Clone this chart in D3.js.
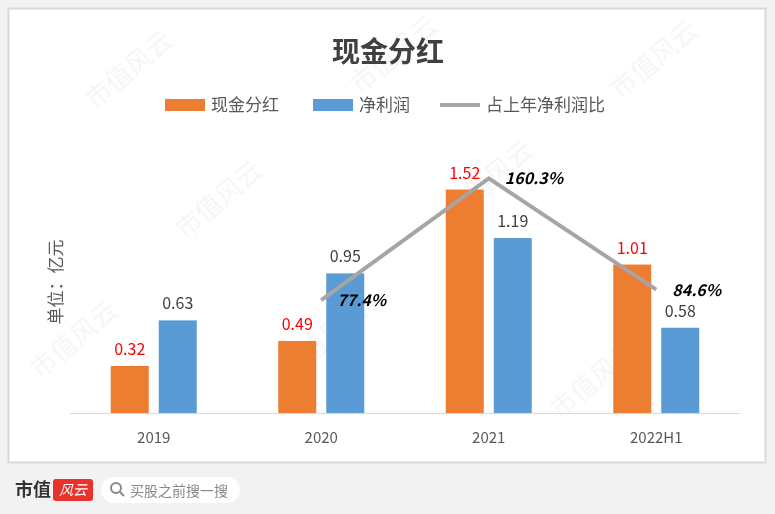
<!DOCTYPE html>
<html><head><meta charset="utf-8">
<script src="https://cdn.jsdelivr.net/npm/d3@7"></script>
<style>body{margin:0;background:#f2f2f2;font-family:"Noto Sans CJK SC","Noto Sans",sans-serif}</style>
</head><body><svg id="c" width="775" height="514"></svg>
<script>
const categories = ["2019","2020","2021","2022H1"];
const dividend = [0.32,0.49,1.52,1.01];
const netProfit = [0.63,0.95,1.19,0.58];
const ratio = [null,77.4,160.3,84.6];
const ratioLabels = ["","77.4%","160.3%","84.6%"];

const svg = d3.select("#c");
const F = '"Noto Sans CJK SC","Noto Sans",sans-serif';
svg.append("rect").attr("x",0).attr("y",0).attr("width",775).attr("height",514).attr("fill","#f2f2f2");
svg.append("rect").attr("x",8.5).attr("y",8.5).attr("width",757).attr("height",454).attr("fill","#fff").attr("stroke","#d9d9d9").attr("stroke-width",2);

// watermarks
const wm = svg.append("g").attr("fill","#000").attr("opacity",0.04).attr("font-size",26).attr("font-family",F);
[[95,110],[360,95],[620,100],[185,240],[455,220],[40,380],[290,380],[560,420]].forEach(([x,y])=>{
  wm.append("text").attr("transform",`translate(${x},${y}) rotate(-40)`).text("市值风云");
});

svg.append("text").attr("x",388).attr("y",62).attr("text-anchor","middle").attr("font-size",28).attr("font-weight","bold").attr("fill","#404040").attr("font-family",F).text("现金分红");

// legend
const lg = svg.append("g").attr("font-size",17).attr("fill","#595959").attr("font-family",F);
lg.append("rect").attr("x",165).attr("y",99).attr("width",40).attr("height",12).attr("fill","#ed7d31");
lg.append("text").attr("x",211).attr("y",111).attr("fill","#595959").text("现金分红");
lg.append("rect").attr("x",313).attr("y",99).attr("width",40).attr("height",12).attr("fill","#5b9bd5");
lg.append("text").attr("x",359).attr("y",111).attr("fill","#595959").text("净利润");
lg.append("line").attr("x1",440).attr("x2",480).attr("y1",105).attr("y2",105).attr("stroke","#a5a5a5").attr("stroke-width",4);
lg.append("text").attr("x",486).attr("y",111).attr("fill","#595959").text("占上年净利润比");

const x = d3.scaleBand().domain(categories).range([70,740]);
const y = d3.scaleLinear().domain([0,1]).range([413,266]);
const y2 = d3.scaleLinear().domain([0,100]).range([414,267]);
const bw = 38, gap = 10;

svg.append("line").attr("x1",70).attr("x2",740).attr("y1",413.5).attr("y2",413.5).attr("stroke","#d9d9d9");
const xa = svg.append("g").attr("transform","translate(0,414)").call(d3.axisBottom(x).tickSize(0).tickPadding(18));
xa.select(".domain").remove();
xa.selectAll("text").attr("font-size",15).attr("fill","#595959").attr("font-family",F);

svg.append("text").attr("transform","translate(62,282) rotate(-90)").attr("text-anchor","middle").attr("font-size",17).attr("fill","#595959").attr("font-family",F).text("单位：亿元");

const cx = d => x(d)+x.bandwidth()/2;
svg.selectAll(".o").data(categories).join("rect").attr("x",d=>cx(d)-gap/2-bw).attr("width",bw)
 .attr("y",(d,i)=>y(dividend[i])).attr("height",(d,i)=>y(0)-y(dividend[i])).attr("fill","#ed7d31");
svg.selectAll(".b").data(categories).join("rect").attr("x",d=>cx(d)+gap/2).attr("width",bw)
 .attr("y",(d,i)=>y(netProfit[i])).attr("height",(d,i)=>y(0)-y(netProfit[i])).attr("fill","#5b9bd5");
svg.selectAll(".ol").data(categories).join("text").attr("x",d=>cx(d)-gap/2-bw/2).attr("y",(d,i)=>y(dividend[i])-11)
 .attr("text-anchor","middle").attr("font-size",16).attr("fill","#ff0000").attr("font-family",F).text((d,i)=>dividend[i].toFixed(2));
svg.selectAll(".bl").data(categories).join("text").attr("x",d=>cx(d)+gap/2+bw/2).attr("y",(d,i)=>y(netProfit[i])-11)
 .attr("text-anchor","middle").attr("font-size",16).attr("fill","#404040").attr("font-family",F).text((d,i)=>netProfit[i].toFixed(2));

const pts = categories.map((c,i)=>[cx(c),ratio[i]]).filter(p=>p[1]!=null);
svg.append("path").attr("d",d3.line().x(p=>p[0]).y(p=>y2(p[1]))(pts)).attr("fill","none").attr("stroke","#a5a5a5").attr("stroke-width",4);
svg.selectAll(".rl").data(categories).join("text").attr("x",d=>cx(d)+16).attr("y",(d,i)=>ratio[i]==null?0:y2(ratio[i])+6)
 .attr("font-size",16).attr("font-weight","bold").attr("font-style","italic").attr("fill","#000").attr("font-family",F).text((d,i)=>ratioLabels[i]);

// footer
svg.append("text").attr("x",15).attr("y",496).attr("font-size",18).attr("font-weight","bold").attr("fill","#333").attr("font-family",F).text("市值");
svg.append("rect").attr("x",53).attr("y",479).attr("width",40).attr("height",22).attr("rx",3).attr("fill","#e8322b");
svg.append("text").attr("x",73).attr("y",495).attr("text-anchor","middle").attr("font-size",14).attr("font-style","italic").attr("fill","#fff").attr("font-family",F).text("风云");
svg.append("rect").attr("x",101).attr("y",477).attr("width",139).attr("height",26).attr("rx",13).attr("fill","#fff");
svg.append("circle").attr("cx",116).attr("cy",488).attr("r",5).attr("fill","none").attr("stroke","#888").attr("stroke-width",2);
svg.append("line").attr("x1",120).attr("y1",492).attr("x2",124).attr("y2",496).attr("stroke","#888").attr("stroke-width",2);
svg.append("text").attr("x",130).attr("y",496).attr("font-size",14).attr("fill","#888").attr("font-family",F).text("买股之前搜一搜");
</script></body></html>
